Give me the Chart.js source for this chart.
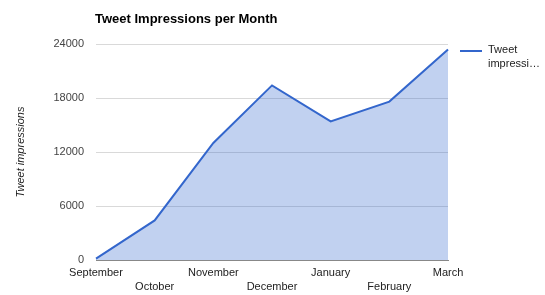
<!DOCTYPE html>
<html>
<head>
<meta charset="utf-8">
<script src="https://cdn.jsdelivr.net/npm/chart.js@4/dist/chart.umd.min.js"></script>
<style>
  html, body { margin: 0; padding: 0; background: #fff; }
  #wrap { width: 545px; height: 295px; position: relative; }
</style>
</head>
<body>
<div id="wrap"><canvas id="c" width="545" height="295"></canvas></div>
<script>
const months = ["September", "October", "November", "December", "January", "February", "March"];
const impressions = [150, 4400, 13000, 19400, 15400, 17600, 23400];
const yTicks = [0, 6000, 12000, 18000, 24000];
const chartTitle = "Tweet Impressions per Month";
const seriesName = "Tweet impressions";
const legendLines = ["Tweet", "impressi\u2026"];
const yAxisTitle = "Tweet impressions";

const FONT = "Arial, 'Liberation Sans', sans-serif";

const overlay = {
  id: 'overlay',
  afterDraw(chart) {
    const ctx = chart.ctx;
    const area = chart.chartArea;
    ctx.save();
    ctx.fillStyle = '#000';
    ctx.font = 'bold 13px ' + FONT;
    ctx.textBaseline = 'alphabetic';
    ctx.textAlign = 'left';
    ctx.fillText(chartTitle, area.left - 1, 23);
    // legend
    ctx.strokeStyle = '#3366cc';
    ctx.lineWidth = 2;
    ctx.beginPath();
    ctx.moveTo(460, 51);
    ctx.lineTo(482, 51);
    ctx.stroke();
    ctx.fillStyle = '#222';
    ctx.font = '11px ' + FONT;
    ctx.fillText(legendLines[0], 488, 53);
    ctx.fillText(legendLines[1], 488, 67);
    ctx.restore();
  }
};

new Chart(document.getElementById('c'), {
  type: 'line',
  data: {
    labels: months,
    datasets: [{
      label: seriesName,
      data: impressions,
      borderColor: '#3366cc',
      backgroundColor: 'rgba(51,102,204,0.3)',
      borderWidth: 2,
      fill: 'origin',
      tension: 0,
      pointRadius: 0,
      pointHoverRadius: 0
    }]
  },
  options: {
    responsive: false,
    animation: false,
    devicePixelRatio: 1,
    layout: { padding: { left: 0, right: 97, top: 44, bottom: 0 } },
    plugins: {
      legend: { display: false },
      title: { display: false },
      tooltip: { enabled: false }
    },
    scales: {
      x: {
        offset: false,
        grid: { display: false, drawTicks: false },
        border: { display: true, color: '#888', width: 1 },
        ticks: {
          autoSkip: false,
          maxRotation: 0,
          minRotation: 0,
          padding: 6,
          color: '#222',
          font: { family: FONT, size: 11, lineHeight: 1.25 },
          callback: function(v, i) {
            const l = months[i];
            return i % 2 === 1 ? ['', l] : l;
          }
        },
        afterFit(scale) { scale.height = 35; }
      },
      y: {
        min: 0,
        max: 24000,
        afterBuildTicks(scale) { scale.ticks = yTicks.map(v => ({ value: v })); },
        grid: {
          drawTicks: false,
          color: ctx => ctx.tick && ctx.tick.value === 0 ? '#888' : '#d9d9d9',
          lineWidth: 1
        },
        border: { display: false },
        ticks: {
          padding: 12,
          color: '#444',
          font: { family: FONT, size: 11 },
          callback: v => String(v)
        },
        title: {
          display: true,
          text: yAxisTitle,
          color: '#222',
          font: { family: FONT, size: 11, style: 'italic' },
          padding: { top: 14, bottom: 0 }
        },
        afterFit(scale) { scale.width = 96; }
      }
    }
  },
  plugins: [overlay]
});
</script>
</body>
</html>
